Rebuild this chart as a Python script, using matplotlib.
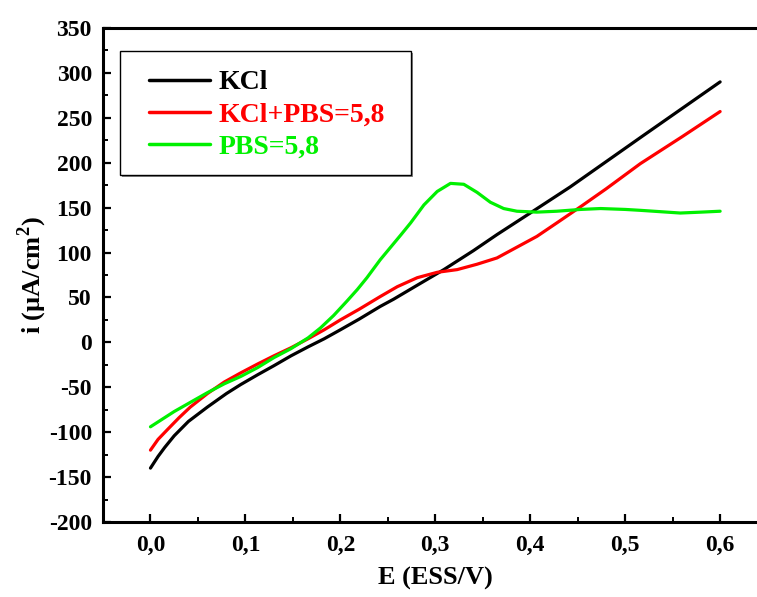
import matplotlib
matplotlib.use("Agg")
import matplotlib.pyplot as plt
from matplotlib.ticker import MultipleLocator
from matplotlib.patches import Rectangle

# ---- data ----
E_kcl = [0, 0.008, 0.015, 0.025, 0.04, 0.06, 0.08, 0.095, 0.113, 0.13, 0.148, 0.166,
         0.183, 0.2, 0.22, 0.242, 0.256, 0.28, 0.309, 0.34, 0.365, 0.4, 0.442, 0.516, 0.6]
i_kcl = [-140, -127, -117, -104, -88, -72, -57, -47, -36, -26, -15, -5,
         4, 14, 26, 40, 48, 63, 81, 102, 120, 144, 173, 228, 290]

E_mix = [0, 0.008, 0.018, 0.03, 0.042, 0.06, 0.078, 0.095, 0.113, 0.13, 0.148, 0.166,
         0.183, 0.2, 0.22, 0.242, 0.26, 0.281, 0.302, 0.323, 0.344, 0.365, 0.386,
         0.407, 0.428, 0.453, 0.48, 0.516, 0.56, 0.6]
i_mix = [-120, -108, -97, -84, -72, -57, -44, -34, -24, -15, -6, 4,
         14, 25, 37, 51, 62, 72, 78, 81, 87, 94, 106,
         118, 133, 151, 171, 199, 229, 257]

E_pbs = [0, 0.025, 0.045, 0.06, 0.078, 0.095, 0.113, 0.13, 0.148, 0.166, 0.179, 0.193,
         0.207, 0.218, 0.228, 0.242, 0.253, 0.264, 0.274, 0.288, 0.302, 0.316, 0.33,
         0.344, 0.358, 0.372, 0.386, 0.407, 0.428, 0.453, 0.474, 0.5, 0.516, 0.558, 0.58, 0.6]
i_pbs = [-94, -77, -65, -56, -46, -38, -28, -17, -7, 5, 16, 30,
         46, 59, 72, 92, 106, 120, 133, 153, 168, 177, 176,
         167, 156, 149, 146, 145, 146, 148, 149, 148, 147, 144, 145, 146]

labels = ["KCl", "KCl+PBS=5,8", "PBS=5,8"]
colors = ["#000000", "#ff0000", "#00f000"]

x_ticks = [0.0, 0.1, 0.2, 0.3, 0.4, 0.5, 0.6]
x_ticklabels = ["0,0", "0,1", "0,2", "0,3", "0,4", "0,5", "0,6"]
y_ticks = [-200, -150, -100, -50, 0, 50, 100, 150, 200, 250, 300, 350]
y_ticklabels = [str(v) for v in y_ticks]

# ---- plot ----
plt.rcParams['font.family'] = ['Liberation Serif', 'DejaVu Serif']
plt.rcParams['font.weight'] = 'bold'
plt.rcParams['mathtext.fontset'] = 'custom'
plt.rcParams['mathtext.bf'] = 'Liberation Serif:bold'
plt.rcParams['mathtext.rm'] = 'Liberation Serif:bold'

W, H = 757, 597
fig = plt.figure(figsize=(W / 100, H / 100), dpi=100)
ax = fig.add_axes([103 / W, 75 / H, (767.6 - 103) / W, 494 / H])

for E, I, lab, c in zip([E_kcl, E_mix, E_pbs], [i_kcl, i_mix, i_pbs], labels, colors):
    ax.plot(E, I, color=c, lw=2.3, label=lab, solid_capstyle='round',
            solid_joinstyle='round')

ax.set_xlim(-0.05, 0.65)
ax.set_ylim(-200, 350)
ax.set_xticks(x_ticks)
ax.set_xticklabels(x_ticklabels)
ax.set_yticks(y_ticks)
ax.set_yticklabels(y_ticklabels)
ax.xaxis.set_minor_locator(MultipleLocator(0.05))
ax.yaxis.set_minor_locator(MultipleLocator(25))

ax.tick_params(which='major', direction='in', length=6, width=1.6, labelsize=17,
               top=False, right=False)
ax.tick_params(axis='x', which='major', pad=9)
ax.tick_params(axis='y', which='major', pad=8)
ax.tick_params(which='minor', direction='in', length=3.5, width=1.4, top=False, right=False)
for lbl in ax.get_xticklabels() + ax.get_yticklabels():
    lbl.set_fontweight('bold')
for sp in ax.spines.values():
    sp.set_linewidth(2.2)

ax.set_xlabel("E (ESS/V)", fontsize=19, fontweight='bold', labelpad=8)
ax.set_ylabel("i (µA/cm$^{2}$)", fontsize=19, fontweight='bold')
ax.yaxis.set_label_coords((49 - 103) / 664.6, 0.5)

# legend box (frame drawn separately)
bx0, by0, bx1, by1 = 120, 51, 411, 175
fig.patches.append(Rectangle((bx0 + 1.5, H - by1 - 1.5), bx1 - bx0, by1 - by0,
                             transform=None, facecolor='#888888', edgecolor='none',
                             zorder=4, figure=fig))
fig.patches.append(Rectangle((bx0, H - by1), bx1 - bx0, by1 - by0,
                             transform=None, facecolor='white', edgecolor='black',
                             linewidth=1.0, zorder=5, figure=fig))

leg = fig.legend(loc='upper left', bbox_to_anchor=(149 / W, 1 - 70 / H),
                 borderaxespad=0, borderpad=0,
                 prop={'size': 20, 'weight': 'bold'}, frameon=False,
                 handlelength=2.2, handletextpad=0.29, labelspacing=0.24)
leg.set_zorder(6)
for txt, c in zip(leg.get_texts(), colors):
    txt.set_color(c)
for h in leg.legend_handles:
    h.set_linewidth(2.5)

fig.savefig("out.png", dpi=100)
